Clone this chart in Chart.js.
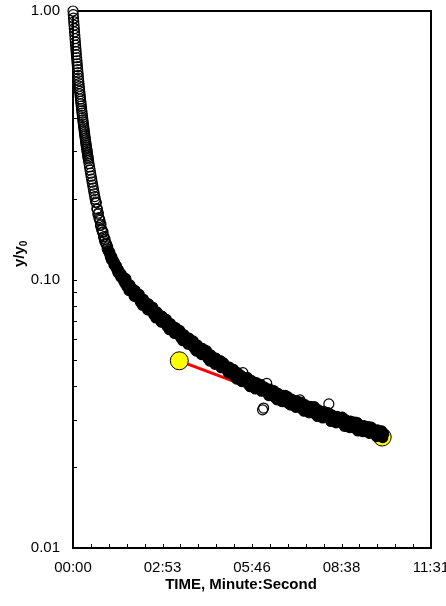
<!DOCTYPE html>
<html><head><meta charset="utf-8">
<script src="https://cdn.jsdelivr.net/npm/chart.js@4.4.0/dist/chart.umd.min.js"></script>
<style>html,body{margin:0;padding:0;background:#fff;overflow:hidden}canvas{display:block}</style>
</head><body>
<canvas id="c" width="446" height="606"></canvas>
<script>
// Elapsed time, seconds
const timeSeconds = [
0,0.5,1,1.5,2,2.5,3,3.5,4,4.5,5,5.5,6,6.5,7,7.5,8,8.5,9,9.5,10,10.5,11,11.5,12,12.5,13,13.5,14,
14.5,15,15.5,16,16.5,17,17.5,18,18.5,19,19.5,20,20.5,21,21.5,22,22.5,23,23.5,24,24.5,25,25.5,26,26.5,27,
27.5,28,28.5,29,29.5,30,
31,32,33,34,35,36,37,38,39,40,41,42,43,44,45,46,47,48,49,50,51,52,53,54,55,56,57,58,59,60,
61,62,63,64,65,66,67,68,69,70,71,72,73,74,75,76,77,78,79,80,81,82,83,84,85,86,87,88,89,90,
91,92,93,94,95,96,97,98,99,100,
102,104,106,108,110,112,114,116,118,120,122,124,126,128,130,132,134,136,138,140,
142,144,146,148,150,152,154,156,158,160,162,164,166,168,170,172,174,176,178,180,
182,184,186,188,190,192,194,196,198,200,202,204,206,208,210,212,214,216,218,220,
222,224,226,228,230,232,234,236,238,240,242,244,246,248,250,252,254,256,258,260,
262,264,266,268,270,272,274,276,278,280,282,284,286,288,290,292,294,296,298,300,
302,304,306,308,310,312,314,316,318,320,322,324,326,328,330,332,334,336,338,340,
342,344,346,348,350,352,354,356,358,360,362,364,366,368,370,372,374,376,378,380,
382,384,386,388,390,392,394,396,398,400,402,404,406,408,410,412,414,416,418,420,
422,424,426,428,430,432,434,436,438,440,442,444,446,448,450,452,454,456,458,460,
462,464,466,468,470,472,474,476,478,480,482,484,486,488,490,492,494,496,498,500,
502,504,506,508,510,512,514,516,518,520,522,524,526,528,530,532,534,536,538,540,
542,544,546,548,550,552,554,556,558,560,562,564,566,568,570,572,574,576,578,580,
582,584,586,588,590,592,594,596,598,600
];
// y/y0 readings
const ratioValues = [
1.000,0.9696,0.9404,0.9124,0.8856,0.8599,0.8351,0.8114,0.7887,0.7668,0.7458,0.7256,0.7063,0.6877,0.6698,0.6526,0.6360,0.6201,0.6048,0.5901,0.5759,0.5623,0.5492,0.5366,0.5245,0.5128,0.5016,0.4907,0.4803,
0.4702,0.4605,0.4511,0.4420,0.4332,0.4247,0.4165,0.4085,0.4008,0.3933,0.3861,0.3792,0.3724,0.3659,0.3596,0.3535,0.3475,0.3418,0.3362,0.3309,0.3257,0.3206,0.3157,0.3110,0.3065,0.3021,
0.2977,0.2935,0.2893,0.2853,0.2813,0.2774,
0.2699,0.2626,0.2556,0.2489,0.2425,0.2363,0.2303,0.2246,0.2191,0.2138,0.2086,0.2037,0.1990,0.1944,
0.1930,0.1837,0.1830,0.1750,0.1767,0.1700,0.1678,0.1659,0.1589,0.1606,0.1544,0.1527,0.1499,0.1504,0.1440,0.1444,
0.1390,0.1411,0.1367,0.1358,0.1351,0.1301,0.1322,0.1278,0.1273,0.1255,0.1265,0.1217,
0.1227,0.1187,0.1212,0.1178,0.1175,0.1174,0.1135,0.1158,0.1123,0.1121,0.1110,0.1122,0.1082,
0.1094,0.1060,0.1084,0.1057,0.1056,0.1057,0.1023,0.1046,0.1017,0.1017,0.1008,0.1021,0.0986,0.0998,0.0969,
0.1007,0.09412,0.09638,0.09094,0.09546,0.09129,0.09156,0.09200,0.08668,0.09100,
0.08624,0.08666,0.08526,0.08803,0.08248,0.0847,0.08015,0.08439,0.08080,0.08113,
0.08167,0.07710,0.08111,0.07691,0.07733,0.07618,0.07878,0.0739,0.07593,0.07188,
0.07576,0.0726,0.07298,0.07348,0.06939,0.07306,0.06933,0.06978,0.06876,0.07111,
0.06676,0.06863,0.06503,0.06855,0.06571,0.06609,0.06659,0.06293,0.06627,0.0629,
0.06334,0.06245,0.06463,0.06069,0.06241,0.05917,0.0624,0.05986,0.06021,0.06068,
0.05738,0.06044,0.05741,0.05781,0.05701,0.05904,0.05545,0.05706,0.05409,0.05706,
0.05475,0.0551,0.05556,0.05253,0.05535,0.05258,0.05299,0.0545,0.05414,0.05086,
0.05235,0.04966,0.05241,0.0503,0.05063,0.05107,0.04833,0.05095,0.04842,0.0488,
0.04817,0.04991,0.04692,0.0483,0.0490,0.0484,0.04647,0.04681,0.04722,0.0448,
0.04714,0.04483,0.04521,0.04464,0.04627,0.04353,0.04484,0.04257,0.04497,0.0432,
0.04354,0.04397,0.04164,0.0450,0.04181,0.0422,0.04169,0.04325,0.0407,0.04195,
0.03986,0.04214,0.0405,0.04084,0.04126,0.0391,0.04129,0.03931,0.03969,0.03923,
0.04072,0.03835,0.0327,0.0332,0.03974,0.03822,0.0410,0.03898,0.03695,0.03903,
0.03718,0.03754,0.03713,0.03854,0.03631,0.03745,0.03562,0.03767,0.03625,0.03658,
0.03698,0.03507,0.03705,0.0353,0.0370,0.03528,0.03664,0.03452,0.03562,0.0341,
0.03584,0.03449,0.03482,0.03521,0.03339,0.0353,0.03362,0.03398,0.0356,0.03492,
0.03291,0.03396,0.03231,0.0342,0.03291,0.03323,0.03361,0.03187,0.0337,0.03211,
0.03245,0.03212,0.0336,0.03145,0.03246,0.03088,0.03269,0.03147,0.03178,0.03215,
0.03051,0.03225,0.03074,0.03108,0.03075,0.03195,0.0344,0.0311,0.02959,0.03132,
0.03016,0.03045,0.03081,0.02924,0.03091,0.02947,0.0298,0.02949,0.03065,0.0307,
0.02984,0.0284,0.03006,0.02895,0.0284,0.02958,0.02807,0.0297,0.02831,0.02862,
0.02833,0.02945,0.02777,0.0294,0.02729,0.0289,0.02783,0.02811,0.02844,0.0271,
0.02855,0.02723,0.02753,0.02726,0.02834,0.02672,0.02761,0.0282,0.02783,0.0268,
0.02707,0.0274,0.02601,0.02752,0.0262,0.02654,0.02627,0.02731,0.02576,0.02661
];
// Readings that stand clear of the dense band (drawn as open rings)
const strayTimes = [328, 366, 368, 374, 438, 494];
// Two highlighted points joined by the red segment
const markedTimes = [205.2, 597];
const markedValues = [0.0498, 0.0259];

const xTickValues = [0, 172.8, 345.6, 518.4, 691.2];
const xTickLabels = ['00:00', '02:53', '05:46', '08:38', '11:31'];
const yTickValues = [0.01, 0.1, 1];
const yTickLabels = ['0.01', '0.10', '1.00'];
const xTitle = 'TIME, Minute:Second';
const yTitleMain = 'y/y';
const yTitleSub = '0';

const FONT = "'Liberation Sans', Arial, sans-serif";
const DENSE_FROM = 70; // seconds: from here the overlapping rings merge into a solid band

const framePlugin = {
  id: 'frame',
  beforeDatasetsDraw(chart) {
    const {ctx, chartArea: a, scales: {x, y}} = chart;
    ctx.save();
    ctx.strokeStyle = '#000';
    ctx.lineWidth = 1;
    ctx.beginPath();
    const minorX = (xTickValues[1] - xTickValues[0]) / 5;
    for (let k = 1; k < 20; k++) {
      const px = Math.round(x.getPixelForValue(k * minorX)) + 0.5;
      ctx.moveTo(px, a.bottom); ctx.lineTo(px, a.bottom - 4);
    }
    for (const d of [0.01, 0.1]) {
      for (let m = 2; m <= 10; m++) {
        const py = Math.round(y.getPixelForValue(m * d)) + 0.5;
        ctx.moveTo(a.left, py); ctx.lineTo(a.left + 4, py);
      }
    }
    ctx.stroke();
    ctx.lineWidth = 2;
    ctx.strokeRect(a.left, a.top, a.right - a.left, a.bottom - a.top);
    ctx.restore();
  },
  afterDraw(chart) {
    const {ctx, chartArea: a} = chart;
    ctx.save();
    ctx.fillStyle = '#000';
    ctx.font = 'bold 15px ' + FONT;
    ctx.textAlign = 'center';
    ctx.textBaseline = 'middle';
    ctx.fillText(xTitle, 241, a.bottom + 37);
    ctx.translate(24, 267);
    ctx.rotate(-Math.PI / 2);
    ctx.textAlign = 'left';
    ctx.textBaseline = 'alphabetic';
    ctx.fillText(yTitleMain, 0, 0);
    const w = ctx.measureText(yTitleMain).width;
    ctx.font = 'bold 10px ' + FONT;
    ctx.fillText(yTitleSub, w, 3);
    ctx.restore();
  }
};

const mainData = timeSeconds.map((t, i) => ({x: t, y: ratioValues[i]}));
const markedData = markedTimes.map((t, i) => ({x: t, y: markedValues[i]}));

function ringFill(c) {
  const t = timeSeconds[c.dataIndex];
  if (c.dataIndex === 0) return '#fff';
  if (t >= DENSE_FROM && !strayTimes.includes(t)) return '#000';
  return 'rgba(255,255,255,0)';
}

new Chart(document.getElementById('c'), {
  type: 'scatter',
  data: {
    datasets: [
      {
        data: mainData,
        order: 0,
        clip: false,
        pointRadius: 5,
        pointBorderWidth: 1.2,
        pointBorderColor: '#000',
        pointBackgroundColor: ringFill,
        showLine: false
      },
      {
        data: markedData,
        order: 1,
        clip: false,
        showLine: true,
        borderColor: '#ff0000',
        borderWidth: 3,
        pointRadius: 9,
        pointBorderWidth: 1,
        pointBorderColor: '#000',
        pointBackgroundColor: '#ffff00'
      }
    ]
  },
  options: {
    responsive: false,
    animation: false,
    devicePixelRatio: 1,
    events: [],
    layout: {padding: {top: 11, right: 15, bottom: 0, left: 0}},
    plugins: {legend: {display: false}, tooltip: {enabled: false}},
    scales: {
      x: {
        type: 'linear', min: 0, max: 691.2, bounds: 'data',
        grid: {display: false, drawTicks: false},
        border: {display: false},
        ticks: {
          padding: 11, color: '#000', font: {family: FONT, size: 15},
          autoSkip: false, maxRotation: 0, minRotation: 0,
          callback: (v, i) => xTickLabels[i]
        },
        afterBuildTicks: s => { s.ticks = xTickValues.map(v => ({value: v})); },
        afterFit: s => { s.height = 58; s.paddingLeft = 0; s.paddingRight = 0; }
      },
      y: {
        type: 'logarithmic', min: 0.01, max: 1,
        grid: {display: false, drawTicks: false},
        border: {display: false},
        ticks: {
          padding: 13, color: '#000', font: {family: FONT, size: 15},
          autoSkip: false,
          callback: (v, i) => yTickLabels[i]
        },
        afterBuildTicks: s => { s.ticks = yTickValues.map(v => ({value: v})); },
        afterFit: s => { s.width = 73; s.paddingTop = 0; s.paddingBottom = 0; }
      }
    }
  },
  plugins: [framePlugin]
});
</script>
</body></html>
